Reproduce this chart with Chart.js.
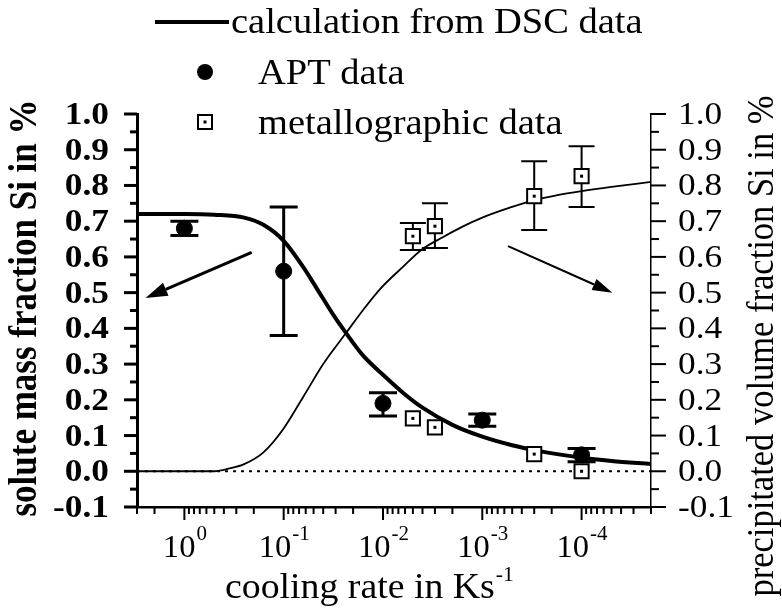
<!DOCTYPE html>
<html>
<head>
<meta charset="utf-8">
<script src="https://cdn.jsdelivr.net/npm/chart.js@4.4.1/dist/chart.umd.min.js"></script>
<style>
  html, body { margin: 0; padding: 0; background: #fff; }
</style>
</head>
<body>
<canvas id="chart" width="782" height="608"></canvas>
<script>
// cooling rate in K/s, fractions in %
const curveRates = [3, 1, 0.5, 0.25, 0.16, 0.1, 0.063, 0.046, 0.032, 0.024, 0.016, 0.01, 0.0063, 0.004, 0.002, 0.001, 0.0005, 0.00025, 0.0001, 0.00005, 0.00002];
const soluteCalc = [0.72, 0.72, 0.718, 0.71, 0.69, 0.645, 0.57, 0.51, 0.44, 0.39, 0.325, 0.27, 0.22, 0.178, 0.13, 0.097, 0.073, 0.055, 0.038, 0.029, 0.02];

const precipRates = [3, 0.5, 0.35, 0.25, 0.16, 0.1, 0.063, 0.04, 0.034, 0.024, 0.016, 0.0107, 0.0063, 0.004, 0.0025, 0.0016, 0.001, 0.0005, 0.00032, 0.00018, 0.0001, 0.00005, 0.00002];
const precipCalc = [0, 0, 0.008, 0.02, 0.053, 0.12, 0.21, 0.3, 0.328, 0.384, 0.45, 0.51, 0.572, 0.622, 0.655, 0.684, 0.71, 0.74, 0.757, 0.772, 0.784, 0.796, 0.81];

const aptRates = [1, 0.1, 0.01, 0.001, 0.0001];
const aptValues = [0.68, 0.56, 0.19, 0.143, 0.046];
const aptLow = [0.66, 0.38, 0.155, 0.126, 0.027];
const aptHigh = [0.70, 0.74, 0.22, 0.16, 0.064];

const metRates = [0.005, 0.003, 0.0003, 0.0001];
const metSolute = [0.148, 0.123, 0.048, 0.0];
const metPrecip = [0.658, 0.686, 0.77, 0.826];
const metPrecipLow = [0.619, 0.625, 0.675, 0.74];
const metPrecipHigh = [0.695, 0.75, 0.868, 0.91];

const zeroRates = [3, 0.00002];
const zeroLine = [0, 0];

const xMajorTicks = [1, 0.1, 0.01, 0.001, 0.0001];
const xTickExponents = ['0', '-1', '-2', '-3', '-4'];
const legendLabels = ['calculation from DSC data', 'APT data', 'metallographic data'];

// annotation arrows, in data units [rate, value]
const arrowLeft = [[0.21, 0.613], [2.46, 0.485]];
const arrowRight = [[0.00055, 0.63], [0.000049, 0.5]];

const FONT = '"Liberation Serif", "Times New Roman", serif';

const pts = (xs, ys) => xs.map((x, i) => ({ x: x, y: ys[i] }));

function sText(ctx, text, x, y, font, align, sx) {
  ctx.save();
  ctx.font = font;
  ctx.translate(x, y);
  ctx.scale(sx, 1);
  ctx.textAlign = align || 'left';
  ctx.textBaseline = 'alphabetic';
  ctx.fillText(text, 0, 0);
  ctx.restore();
}

function textW(ctx, text, font, sx) {
  ctx.save();
  ctx.font = font;
  const w = ctx.measureText(text).width * sx;
  ctx.restore();
  return w;
}

function vText(ctx, text, x, y, font, sx) {
  ctx.save();
  ctx.font = font;
  ctx.translate(x, y);
  ctx.rotate(-Math.PI / 2);
  ctx.scale(1, sx);
  ctx.textAlign = 'center';
  ctx.textBaseline = 'middle';
  ctx.fillText(text, 0, 0);
  ctx.restore();
}

function arrow(ctx, x0, y0, x1, y1, lw, len, half) {
  const a = Math.atan2(y1 - y0, x1 - x0);
  const bx = x1 - len * Math.cos(a), by = y1 - len * Math.sin(a);
  ctx.beginPath();
  ctx.moveTo(x0, y0);
  ctx.lineTo(bx, by);
  ctx.lineWidth = lw;
  ctx.stroke();
  ctx.beginPath();
  ctx.moveTo(x1, y1);
  ctx.lineTo(bx + half * Math.sin(a), by - half * Math.cos(a));
  ctx.lineTo(bx - half * Math.sin(a), by + half * Math.cos(a));
  ctx.closePath();
  ctx.fill();
}

const errorBars = {
  id: 'errorBars',
  beforeDatasetsDraw(chart) {
    const ctx = chart.ctx;
    const xs = chart.scales.x;
    function bar(scale, rate, lo, hi, lw, cap) {
      const px = xs.getPixelForValue(rate);
      const a = scale.getPixelForValue(lo), b = scale.getPixelForValue(hi);
      ctx.beginPath();
      ctx.moveTo(px, a); ctx.lineTo(px, b);
      ctx.moveTo(px - cap / 2, a); ctx.lineTo(px + cap / 2, a);
      ctx.moveTo(px - cap / 2, b); ctx.lineTo(px + cap / 2, b);
      ctx.lineWidth = lw;
      ctx.strokeStyle = '#000';
      ctx.stroke();
    }
    ctx.save();
    aptRates.forEach((r, i) => bar(chart.scales.y, r, aptLow[i], aptHigh[i], 3, 28));
    metRates.forEach((r, i) => bar(chart.scales.y2, r, metPrecipLow[i], metPrecipHigh[i], 2, 26));
    ctx.restore();
  },
  afterDatasetsDraw(chart) {
    // centre dots of the open squares
    const ctx = chart.ctx;
    const xs = chart.scales.x;
    ctx.save();
    ctx.fillStyle = '#000';
    metRates.forEach((r, i) => {
      const px = xs.getPixelForValue(r);
      [[chart.scales.y, metSolute[i]], [chart.scales.y2, metPrecip[i]]].forEach(([s, v]) => {
        ctx.fillRect(px - 1.5, s.getPixelForValue(v) - 1.5, 3, 3);
      });
    });
    ctx.restore();
  }
};

const decor = {
  id: 'decor',
  afterDraw(chart) {
    const ctx = chart.ctx;
    const area = chart.chartArea;
    const xs = chart.scales.x, yl = chart.scales.y, yr = chart.scales.y2;
    ctx.save();
    ctx.fillStyle = '#000';
    ctx.strokeStyle = '#000';

    // x tick marks, pointing down
    ctx.lineWidth = 2;
    xs.ticks.forEach(t => {
      const px = xs.getPixelForValue(t.value);
      const len = t.major ? 13 : 7;
      ctx.beginPath();
      ctx.moveTo(px, area.bottom);
      ctx.lineTo(px, area.bottom + len);
      ctx.stroke();
    });

    // y tick marks, major + minor halfway
    function yTicks(scale, x0, dir, lw, major, minor) {
      ctx.lineWidth = lw;
      const vals = scale.ticks.map(t => t.value);
      vals.forEach((v, i) => {
        const py = scale.getPixelForValue(v);
        ctx.beginPath(); ctx.moveTo(x0, py); ctx.lineTo(x0 + dir * major, py); ctx.stroke();
        if (i < vals.length - 1) {
          const pm = scale.getPixelForValue((v + vals[i + 1]) / 2);
          ctx.beginPath(); ctx.moveTo(x0, pm); ctx.lineTo(x0 + dir * minor, pm); ctx.stroke();
        }
      });
    }
    yTicks(yl, area.left, -1, 3, 13, 7);
    yTicks(yr, area.right, 1, 2, 15, 8);

    // y tick labels
    const fl = 'bold 31px ' + FONT, fr = '31px ' + FONT;
    yl.ticks.forEach(t => sText(ctx, t.value.toFixed(1), area.left - 28, yl.getPixelForValue(t.value) + 10, fl, 'right', 1.14));
    yr.ticks.forEach(t => sText(ctx, t.value.toFixed(1), area.right + 27, yr.getPixelForValue(t.value) + 10, fr, 'left', 1.14));

    // x tick labels 10^n
    const fb = '31px ' + FONT, fs = '20px ' + FONT;
    xMajorTicks.forEach((v, i) => {
      const px = xs.getPixelForValue(v);
      const w1 = textW(ctx, '10', fb, 1.05), w2 = textW(ctx, xTickExponents[i], fs, 1.05);
      const x0 = px - (w1 + w2) / 2;
      sText(ctx, '10', x0, 557, fb, 'left', 1.05);
      sText(ctx, xTickExponents[i], x0 + w1 + 1, 540, fs, 'left', 1.05);
    });

    // axis titles
    const ft = '35px ' + FONT;
    sText(ctx, 'cooling rate in Ks', 225, 598, ft, 'left', 1.08);
    sText(ctx, '-1', 225 + textW(ctx, 'cooling rate in Ks', ft, 1.08) + 1, 581, '20px ' + FONT, 'left', 1.08);
    vText(ctx, 'solute mass fraction Si in %', 26, 308, 'bold 35px ' + FONT, 1.12);
    vText(ctx, 'precipitated volume fraction Si in %', 763, 346, '34.5px ' + FONT, 1.12);

    // legend
    ctx.lineWidth = 4;
    ctx.beginPath(); ctx.moveTo(155, 22); ctx.lineTo(229, 22); ctx.stroke();
    sText(ctx, legendLabels[0], 231, 33, ft, 'left', 1.1);
    ctx.beginPath(); ctx.arc(205, 72, 8, 0, Math.PI * 2); ctx.fill();
    sText(ctx, legendLabels[1], 258, 84, ft, 'left', 1.1);
    ctx.lineWidth = 2;
    ctx.strokeRect(198, 115, 14, 14);
    ctx.fillRect(203.5, 120.5, 3, 3);
    sText(ctx, legendLabels[2], 258, 134, ft, 'left', 1.1);

    // arrows
    const ap = (p, s) => [xs.getPixelForValue(p[0]), s.getPixelForValue(p[1])];
    let a = ap(arrowLeft[0], yl), b = ap(arrowLeft[1], yl);
    arrow(ctx, a[0], a[1], b[0], b[1], 3, 22, 7);
    a = ap(arrowRight[0], yr); b = ap(arrowRight[1], yr);
    arrow(ctx, a[0], a[1], b[0], b[1], 2, 20, 6);
    ctx.restore();
  }
};

new Chart(document.getElementById('chart'), {
  type: 'line',
  data: {
    datasets: [
      {
        label: 'APT data',
        data: pts(aptRates, aptValues),
        showLine: false,
        pointStyle: 'circle',
        pointRadius: 8,
        backgroundColor: '#000',
        borderColor: '#000',
        yAxisID: 'y'
      },
      {
        label: 'metallographic data',
        data: pts(metRates, metSolute),
        showLine: false,
        pointStyle: 'rect',
        pointRadius: 10,
        pointBorderWidth: 2,
        backgroundColor: '#fff',
        borderColor: '#000',
        yAxisID: 'y'
      },
      {
        label: 'metallographic data (precipitated)',
        data: pts(metRates, metPrecip),
        showLine: false,
        pointStyle: 'rect',
        pointRadius: 10,
        pointBorderWidth: 2,
        backgroundColor: '#fff',
        borderColor: '#000',
        yAxisID: 'y2'
      },
      {
        label: 'calculation from DSC data',
        data: pts(curveRates, soluteCalc),
        borderColor: '#000',
        borderWidth: 4,
        pointRadius: 0,
        cubicInterpolationMode: 'monotone',
        yAxisID: 'y'
      },
      {
        label: 'calculation (precipitated)',
        data: pts(precipRates, precipCalc),
        borderColor: '#000',
        borderWidth: 1.8,
        pointRadius: 0,
        cubicInterpolationMode: 'monotone',
        yAxisID: 'y2'
      },
      {
        label: 'zero',
        data: pts(zeroRates, zeroLine),
        borderColor: '#000',
        borderWidth: 2,
        borderDash: [3, 5],
        pointRadius: 0,
        yAxisID: 'y'
      }
    ]
  },
  options: {
    responsive: false,
    animation: false,
    devicePixelRatio: 1,
    layout: { padding: { top: 114, left: 0, right: 0, bottom: 0 } },
    plugins: { legend: { display: false }, tooltip: { enabled: false } },
    scales: {
      x: {
        type: 'logarithmic',
        reverse: true,
        min: 0.00002,
        max: 3,
        grid: { display: false },
        border: { display: true, color: '#000', width: 2.5 },
        ticks: { display: false },
        afterBuildTicks: (scale) => {
          const t = [];
          for (let e = -5; e <= 0; e++) {
            for (let m = 1; m <= 9; m++) {
              const v = m * Math.pow(10, e);
              if (v >= 0.0000199 && v <= 3.001) t.push({ value: v, major: m === 1 });
            }
          }
          scale.ticks = t;
        },
        afterFit: (scale) => { scale.height = 101; }
      },
      y: {
        position: 'left',
        min: -0.1,
        max: 1.0,
        ticks: { display: false, stepSize: 0.1 },
        grid: { display: false },
        border: { display: true, color: '#000', width: 3 },
        afterFit: (scale) => { scale.width = 137; }
      },
      y2: {
        position: 'right',
        min: -0.1,
        max: 1.0,
        ticks: { display: false, stepSize: 0.1 },
        grid: { display: false },
        border: { display: true, color: '#000', width: 1.5 },
        afterFit: (scale) => { scale.width = 131; }
      }
    }
  },
  plugins: [errorBars, decor]
});
</script>
</body>
</html>
